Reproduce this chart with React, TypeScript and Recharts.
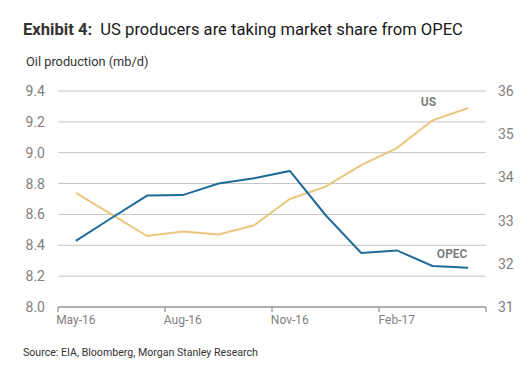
import React from "react";
import { LineChart, Line, XAxis, YAxis, CartesianGrid } from "recharts";

const months = ["May-16", "Jun-16", "Jul-16", "Aug-16", "Sep-16", "Oct-16", "Nov-16", "Dec-16", "Jan-17", "Feb-17", "Mar-17", "Apr-17"];
const usProd = [8.74, 8.6, 8.46, 8.49, 8.47, 8.53, 8.7, 8.78, 8.92, 9.03, 9.21, 9.29];
const opecProd = [32.53, 33.06, 33.58, 33.59, 33.86, 33.98, 34.15, 33.13, 32.25, 32.31, 31.95, 31.91];
const leftTicks = [8.0, 8.2, 8.4, 8.6, 8.8, 9.0, 9.2, 9.4];
const rightTicks = [31, 32, 33, 34, 35, 36];
const xTicks = [0, 3, 6, 9, 12];

const data = months.map((m, i) => ({ pos: i + 0.5, month: m, us: usProd[i], opec: opecProd[i] }));

const FONT = "Roboto, 'Liberation Sans', Arial, sans-serif";
const GREY = "#7f7f7f";
const BAND = 428 / 12;

const MonthTick = (props: any) => {
  const { x, y, payload } = props;
  const label = months[payload.value];
  if (!label) return null;
  return (
    <text x={x + BAND / 2} y={y} dy={10} textAnchor="middle" fontSize={12} fill={GREY} fontFamily={FONT}>
      {label}
    </text>
  );
};

const seriesLabel = (text: string, at: number, dx: number, dy: number) => (props: any) => {
  const { x, y, index } = props;
  if (index !== at) return null;
  return (
    <text x={x + dx} y={y + dy} textAnchor="middle" fontSize={12} fontWeight="bold" fill={GREY} fontFamily={FONT}>
      {text}
    </text>
  );
};

const App: React.FC = () => {
  return (
    <div style={{ position: "absolute", left: 0, top: 0, width: 528, height: 388, background: "#fff", fontFamily: FONT }}>
      <div style={{ position: "absolute", left: 23, top: 20, fontSize: 16.6, color: "#1a1a1a", whiteSpace: "nowrap" }}>
        <b style={{ color: "#333" }}>Exhibit 4:</b>&nbsp; US producers are taking market share from OPEC
      </div>
      <div style={{ position: "absolute", left: 26, top: 54, fontSize: 12.8, color: "#333" }}>Oil production (mb/d)</div>
      <div style={{ position: "absolute", left: 23, top: 346, fontSize: 10.6, color: "#333", whiteSpace: "nowrap" }}>
        Source: EIA, Bloomberg, Morgan Stanley Research
      </div>
      <LineChart width={528} height={388} data={data} margin={{ top: 91, right: 0, bottom: 51, left: 0 }}>
        <CartesianGrid yAxisId="left" vertical={false} stroke="#c4c4c4" />
        <XAxis
          dataKey="pos"
          type="number"
          domain={[0, 12]}
          ticks={xTicks}
          interval={0}
          height={30}
          tick={<MonthTick />}
          tickSize={5}
          tickLine={{ stroke: GREY }}
          axisLine={{ stroke: GREY }}
        />
        <YAxis
          yAxisId="left"
          orientation="left"
          width={58}
          domain={[8, 9.4]}
          ticks={leftTicks}
          tickFormatter={(v: number) => v.toFixed(1)}
          axisLine={false}
          tickLine={false}
          tickSize={0}
          tickMargin={13}
          tick={{ fontSize: 14, fill: GREY, fontFamily: FONT }}
        />
        <YAxis
          yAxisId="right"
          orientation="right"
          width={42}
          domain={[31, 36]}
          ticks={rightTicks}
          axisLine={false}
          tickLine={false}
          tickSize={0}
          tickMargin={12}
          tick={{ fontSize: 14, fill: GREY, fontFamily: FONT, textAnchor: "start" }}
        />
        <Line
          yAxisId="left"
          dataKey="us"
          stroke="#ebc67f"
          strokeWidth={2}
          dot={false}
          isAnimationActive={false}
          label={seriesLabel("US", 10, -4, -14)}
        />
        <Line
          yAxisId="right"
          dataKey="opec"
          stroke="#1f6b9a"
          strokeWidth={2}
          dot={false}
          isAnimationActive={false}
          label={seriesLabel("OPEC", 11, -16, -10)}
        />
      </LineChart>
    </div>
  );
};

export default App;
